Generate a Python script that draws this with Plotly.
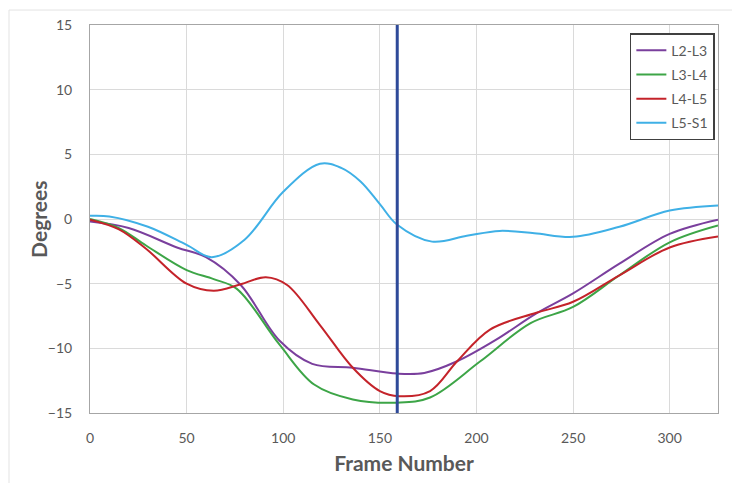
import plotly.graph_objects as go

# ---- data ----
l2l3_x = [0, 20, 45, 60, 78, 98, 115, 136, 159, 173, 190, 210, 231, 250, 274, 300, 325]
l2l3_y = [-0.2, -0.7, -2.2, -2.95, -5.1, -9.4, -11.2, -11.5, -11.95, -11.9, -11.0, -9.35, -7.3, -5.75, -3.45, -1.15, -0.05]

l3l4_x = [0, 15, 29, 50, 64, 76, 98, 116, 136, 159, 176, 202, 228, 250, 274, 300, 325]
l3l4_y = [0.0, -0.7, -2.05, -3.95, -4.65, -5.4, -9.7, -12.8, -13.95, -14.2, -13.8, -11.0, -8.05, -6.8, -4.35, -1.8, -0.5]

l4l5_x = [0, 15, 29, 50, 64, 78, 91, 102, 119, 136, 150, 160, 176, 190, 207, 231, 250, 274, 300, 325]
l4l5_y = [-0.05, -0.8, -2.3, -5.0, -5.55, -5.05, -4.5, -5.1, -8.2, -11.5, -13.3, -13.7, -13.3, -11.0, -8.55, -7.25, -6.4, -4.35, -2.2, -1.35]

l5s1_x = [0, 10, 30, 50, 63, 80, 100, 119, 130, 140, 150, 159, 177, 195, 212, 230, 250, 274, 300, 325]
l5s1_y = [0.25, 0.2, -0.6, -2.0, -2.95, -1.6, 2.1, 4.27, 3.95, 2.9, 1.15, -0.45, -1.75, -1.3, -0.92, -1.1, -1.38, -0.6, 0.65, 1.05]

series_names = ["L2-L3", "L3-L4", "L4-L5", "L5-S1"]
series_colors = ["#7A3F9D", "#3DA547", "#C4232A", "#3FB0E6"]

marker_frame = 159
x_range = [0, 325]
y_range = [-15, 15]
x_ticks = [0, 50, 100, 150, 200, 250, 300]
y_ticks = [-15, -10, -5, 0, 5, 10, 15]

FONT = "Lato"
GRAY_TEXT = "#595959"

fig = go.Figure()
data = [(l2l3_x, l2l3_y), (l3l4_x, l3l4_y), (l4l5_x, l4l5_y), (l5s1_x, l5s1_y)]
for i, ((xs, ys), name, col) in enumerate(zip(data, series_names, series_colors)):
    fig.add_trace(go.Scatter(
        x=xs, y=ys, name=name, mode="lines",
        line=dict(color=col, width=2, shape="spline", smoothing=1.0),
        legendgroup=name,
    ))

fig.add_shape(type="line", xref="x", yref="y",
              x0=marker_frame, x1=marker_frame, y0=y_range[0], y1=y_range[1],
              line=dict(color="#2E4A99", width=3), layer="above")

# outer chart-area border (left and top, faint)
fig.add_shape(type="line", xref="paper", yref="paper",
              x0=-0.129, x1=-0.129, y0=-0.2, y1=1.0385,
              line=dict(color="#E3E3E3", width=1))
fig.add_shape(type="line", xref="paper", yref="paper",
              x0=-0.129, x1=1.05, y0=1.0385, y1=1.0385,
              line=dict(color="#E3E3E3", width=1))

# y-axis title as annotation to place it exactly
fig.add_annotation(text="<b>Degrees</b>", xref="paper", yref="paper",
                   x=-0.083, y=0.5, xanchor="center", yanchor="middle",
                   textangle=-90, showarrow=False,
                   font=dict(size=21, color=GRAY_TEXT, family=FONT))

fig.update_layout(
    width=732, height=483,
    margin=dict(l=90, r=14, t=25, b=68),
    paper_bgcolor="white", plot_bgcolor="white",
    font=dict(family=FONT, color=GRAY_TEXT),
    showlegend=True,
    legend=dict(
        x=0.995, y=0.979, xanchor="right", yanchor="top",
        bordercolor="#404040", borderwidth=1.5, bgcolor="white",
        font=dict(size=14, color=GRAY_TEXT, family=FONT),
        tracegroupgap=3, itemwidth=30,
    ),
    xaxis=dict(
        range=x_range, tickvals=x_ticks, showgrid=True, gridcolor="#DADADA",
        showline=True, linecolor="#A6A6A6", linewidth=1, mirror=True,
        zeroline=False, ticks="", tickfont=dict(size=14, color=GRAY_TEXT),
        ticklabelstandoff=12,
        title=dict(text="<b>Frame Number</b>", font=dict(size=21, color=GRAY_TEXT), standoff=11),
    ),
    yaxis=dict(
        range=y_range, tickvals=y_ticks, showgrid=True, gridcolor="#DADADA",
        showline=True, linecolor="#A6A6A6", linewidth=1, mirror=True,
        zeroline=False, ticks="", tickfont=dict(size=14, color=GRAY_TEXT),
        ticklabelstandoff=14,
    ),
)

fig.write_html("out.html")
